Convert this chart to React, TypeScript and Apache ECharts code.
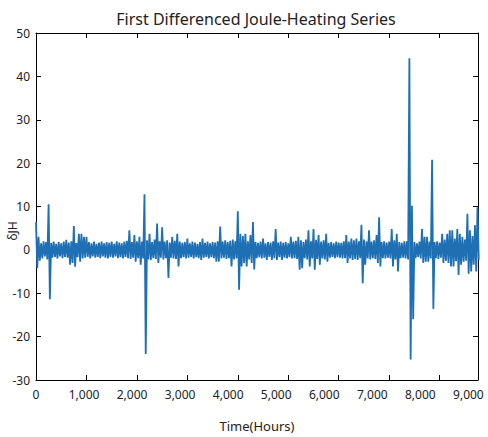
import React, { useEffect, useRef } from "react";
import * as echarts from "echarts";

const chartTitle = "First Differenced Joule-Heating Series";
const xName = "Time(Hours)";
const yName = "δJH";
const binHours = 50;

// upper / lower envelope of the series per 50-hour bin
const upper = [
  6.4, 3.0, 1.5, 2.0, 1.8, 10.5, 1.6, 1.9, 1.4, 1.8,
  1.5, 1.9, 2.3, 1.7, 2.0, 5.5, 1.6, 3.7, 3.7, 3.0,
  3.0, 1.8, 1.5, 1.9, 1.4, 1.7, 1.9, 1.5, 1.8, 1.6,
  1.9, 1.4, 2.0, 1.7, 1.5, 1.9, 2.1, 4.5, 1.8, 3.4,
  2.0, 3.0, 1.9, 12.8, 2.2, 3.7, 1.8, 2.4, 6.1, 2.0,
  5.2, 1.9, 2.2, 1.7, 3.0, 2.1, 3.7, 1.9, 1.6, 1.8,
  2.6, 1.5, 1.9, 1.7, 1.4, 1.8, 2.6, 1.6, 1.9, 1.5,
  1.8, 1.7, 2.0, 5.4, 1.9, 2.2, 1.8, 2.1, 2.4, 2.0,
  8.9, 3.7, 3.2, 3.7, 2.0, 3.4, 6.4, 1.8, 1.6, 1.9,
  2.6, 1.5, 1.8, 1.7, 2.0, 4.8, 1.7, 1.9, 1.6, 1.8,
  1.5, 3.0, 1.9, 2.1, 3.0, 2.2, 1.8, 2.4, 4.5, 2.0,
  4.8, 2.3, 3.4, 1.9, 2.2, 3.7, 1.6, 1.8, 1.5, 1.9,
  1.7, 1.6, 2.0, 3.4, 1.9, 2.6, 2.2, 2.6, 2.0, 5.8,
  2.4, 2.0, 4.5, 1.9, 2.2, 3.4, 7.5, 1.8, 2.0, 1.7,
  1.9, 4.8, 2.2, 3.7, 1.8, 1.6, 2.0, 2.0, 44.2, 10.2,
  1.8, 1.5, 1.9, 4.8, 3.0, 3.0, 1.9, 20.8, 1.8, 2.0,
  1.7, 3.7, 2.4, 3.7, 4.5, 4.5, 2.6, 4.8, 3.7, 3.0,
  2.4, 8.3, 4.5, 3.2, 5.7, 9.8,
];
const lower = [
  -4.2, -2.5, -2.0, -1.5, -2.2, -11.4, -1.8, -1.6, -2.0, -1.5,
  -1.9, -1.6, -1.8, -3.4, -3.0, -3.9, -1.7, -2.7, -2.0, -1.8,
  -1.6, -2.0, -1.5, -1.8, -1.6, -1.9, -1.5, -1.8, -2.0, -1.6,
  -1.8, -1.5, -1.9, -1.7, -2.0, -1.6, -1.9, -2.1, -1.8, -2.7,
  -1.9, -3.4, -2.0, -24.0, -2.2, -2.3, -1.9, -2.1, -3.0, -1.8,
  -2.2, -1.9, -6.5, -1.8, -2.0, -2.1, -3.8, -1.9, -1.7, -2.0,
  -1.8, -1.6, -2.0, -1.7, -1.9, -2.3, -1.8, -1.6, -2.0, -1.7,
  -1.9, -2.7, -2.7, -2.0, -1.8, -2.1, -1.9, -3.8, -2.2, -2.0,
  -9.2, -3.8, -3.0, -3.8, -2.2, -3.0, -4.5, -1.9, -1.7, -2.0,
  -1.8, -2.3, -1.6, -2.3, -1.9, -2.3, -1.7, -2.3, -1.8, -2.0,
  -1.7, -2.0, -1.9, -2.1, -4.6, -4.2, -1.9, -2.2, -3.8, -2.0,
  -4.6, -2.1, -3.4, -2.0, -2.2, -2.7, -1.8, -1.6, -1.9, -1.7,
  -1.8, -2.0, -1.9, -3.0, -2.0, -2.3, -2.1, -2.3, -1.9, -7.7,
  -3.4, -2.0, -2.2, -1.9, -2.1, -3.0, -3.8, -1.9, -2.0, -1.8,
  -2.0, -3.8, -2.2, -5.0, -1.9, -1.8, -2.0, -2.2, -25.3, -16.0,
  -1.9, -1.6, -2.0, -3.0, -2.7, -2.7, -2.0, -13.6, -1.9, -2.1,
  -1.8, -3.0, -2.5, -3.0, -3.8, -3.8, -2.6, -5.8, -3.4, -2.7,
  -2.5, -5.5, -5.0, -3.4, -5.0, -2.3,
];

const xMin = 0;
const xMax = 8760;
const xLabelMax = 9200;
const xStep = 1000;
const yMin = -30;
const yMax = 50;
const yStep = 10;

const FONT = "Noto Sans";
const LINE_COLOR = "#1f6fb4";

export default function App() {
  const ref = useRef<HTMLDivElement>(null);

  useEffect(() => {
    if (!ref.current) return;
    const chart = echarts.init(ref.current, null, { renderer: "svg" });

    const data: [number, number][] = [];
    upper.forEach((u, i) => {
      data.push([i * binHours, u]);
      data.push([i * binHours + binHours / 2, lower[i]]);
    });

    const frameAxisX = (position: "top" | "bottom") => ({
      type: "value",
      min: xMin,
      max: xMax,
      interval: xStep,
      position,
      axisLine: { show: true, onZero: false, lineStyle: { color: "#000", width: 1 } },
      axisTick: { show: true, inside: true, length: 5, lineStyle: { color: "#000" } },
      axisLabel: { show: false },
      splitLine: { show: false },
    });

    chart.setOption({
      animation: false,
      backgroundColor: "#fff",
      title: {
        text: chartTitle,
        left: 251,
        top: 6,
        textAlign: "center",
        textStyle: { fontFamily: FONT, fontSize: 16, fontWeight: "normal", color: "#222" },
      },
      grid: { left: 36, right: 10, top: 33, bottom: 52, containLabel: false },
      xAxis: [
        frameAxisX("bottom"),
        frameAxisX("top"),
        {
          type: "value",
          min: xMin,
          max: xLabelMax,
          interval: xStep,
          position: "bottom",
          axisLine: { show: false },
          axisTick: { show: false },
          splitLine: { show: false },
          axisLabel: {
            show: true,
            margin: 8,
            fontFamily: FONT,
            fontSize: 12,
            color: "#222",
            formatter: (v: number) => (v % xStep === 0 ? v.toLocaleString("en-US") : ""),
          },
          name: xName,
          nameLocation: "middle",
          nameGap: 39,
          nameTextStyle: { fontFamily: FONT, fontSize: 13, color: "#222" },
        },
      ],
      yAxis: [
        {
          type: "value",
          min: yMin,
          max: yMax,
          interval: yStep,
          position: "left",
          axisLine: { show: true, onZero: false, lineStyle: { color: "#000", width: 1 } },
          axisTick: { show: true, inside: true, length: 5, lineStyle: { color: "#000" } },
          axisLabel: { show: true, margin: 6, fontFamily: FONT, fontSize: 12, color: "#222" },
          splitLine: { show: false },
        },
        {
          type: "value",
          min: yMin,
          max: yMax,
          interval: yStep,
          position: "right",
          axisLine: { show: true, onZero: false, lineStyle: { color: "#000", width: 1 } },
          axisTick: { show: true, inside: true, length: 5, lineStyle: { color: "#000" } },
          axisLabel: { show: false },
          splitLine: { show: false },
        },
      ],
      graphic: [
        {
          type: "text",
          x: 12,
          y: 231,
          rotation: Math.PI / 2,
          style: {
            text: yName,
            fontFamily: FONT,
            fontSize: 12,
            fill: "#222",
            textAlign: "center",
            textVerticalAlign: "middle",
          },
        },
      ],
      series: [
        {
          type: "line",
          xAxisIndex: 0,
          yAxisIndex: 0,
          data,
          showSymbol: false,
          symbol: "none",
          clip: true,
          lineStyle: { color: LINE_COLOR, width: 1.8 },
        },
      ],
    });

    return () => chart.dispose();
  }, []);

  return (
    <div
      ref={ref}
      style={{ position: "absolute", left: 0, top: 0, width: 488, height: 437 }}
    />
  );
}
